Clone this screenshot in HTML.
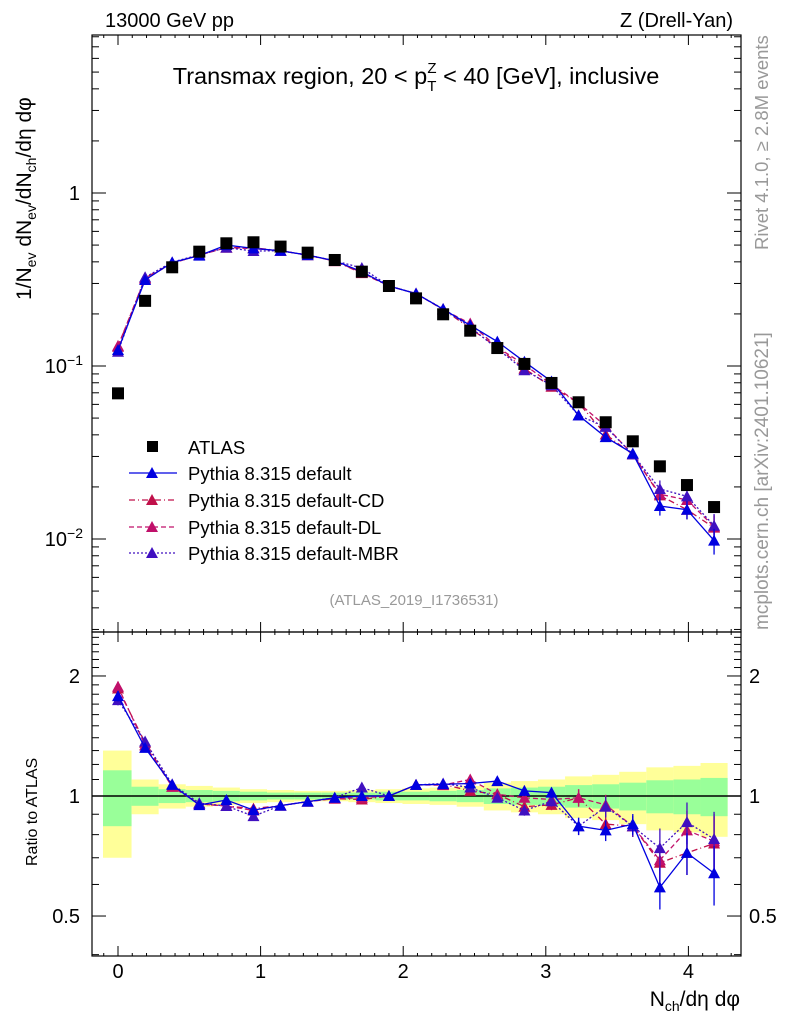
<!DOCTYPE html>
<html><head><meta charset="utf-8"><style>
body{margin:0;background:#fff;}
svg{display:block;font-family:"Liberation Sans",sans-serif;}
</style></head><body>
<svg id="c" width="786" height="1024" viewBox="0 0 786 1024"></svg>
<script>
const xs=[0,0.19,0.38,0.57,0.76,0.95,1.14,1.33,1.52,1.71,1.9,2.09,2.28,2.47,2.66,2.85,3.04,3.23,3.42,3.61,3.8,3.99,4.18];
const atlas=[0.0695,0.238,0.372,0.458,0.512,0.519,0.49,0.452,0.41,0.351,0.290,0.246,0.199,0.160,0.127,0.1028,0.0798,0.0617,0.0473,0.0367,0.0263,0.0205,0.0153];
const rDefault=[1.78,1.32,1.066,0.949,0.977,0.922,0.946,0.968,0.99,1.0,1.0,1.066,1.07,1.075,1.09,1.03,1.02,0.84,0.82,0.85,0.59,0.72,0.64];
const rCD=[1.86,1.36,1.055,0.955,0.944,0.93,0.946,0.968,0.985,0.98,1.0,1.066,1.07,1.03,1.01,0.94,0.95,0.99,0.85,0.84,0.68,0.72,0.76];
const rDL=[1.88,1.34,1.055,0.955,0.944,0.92,0.946,0.968,0.985,0.99,1.0,1.066,1.065,1.1,1.01,0.99,0.98,0.99,0.95,0.84,0.69,0.82,0.77];
const rMBR=[1.74,1.37,1.07,0.96,0.944,0.89,0.946,0.968,0.99,1.05,1.0,1.066,1.075,1.05,0.99,0.92,0.97,0.84,0.94,0.84,0.74,0.86,0.78];
const relErr=[0.03,0.02,0.015,0.015,0.015,0.015,0.015,0.015,0.015,0.015,0.015,0.015,0.02,0.02,0.02,0.03,0.03,0.05,0.06,0.06,0.12,0.12,0.17];
const bandStat=[0.16,0.055,0.04,0.035,0.03,0.025,0.02,0.02,0.02,0.02,0.025,0.025,0.03,0.035,0.045,0.05,0.055,0.065,0.07,0.08,0.095,0.1,0.11];
const bandTot=[0.3,0.1,0.07,0.06,0.05,0.04,0.035,0.03,0.03,0.035,0.04,0.045,0.05,0.06,0.08,0.09,0.1,0.12,0.13,0.15,0.18,0.19,0.21];
const xTicks=[0,1,2,3,4];
const NS="http://www.w3.org/2000/svg";
const svg=document.getElementById('c');
const L=92,R=741,T1=35,B1=632,T2=632,B2=956;
const X=v=>118+v*142.6;
const Y1=v=>193-Math.log10(v)*173;
const Y2=v=>796-Math.log10(v)*398.7;
function el(t,a,p){const e=document.createElementNS(NS,t);for(const k in a)e.setAttribute(k,a[k]);(p||svg).appendChild(e);return e;}
function txt(x,y,s,a,p){const e=el('text',Object.assign({x:x,y:y},a||{}),p);e.innerHTML=s;return e;}
const gb=el('g',{});


const hw=0.095*142.6;
xs.forEach((x,i)=>{
 const x0=i==0?X(x)-15:X(x)-hw, x1=X(x)+hw;
 const r=el('rect',{x:x0,y:Y2(1+bandTot[i]),width:x1-x0,height:Y2(1-bandTot[i])-Y2(1+bandTot[i]),fill:'#ffff99'},gb);
 
 
 const g=el('rect',{x:x0,y:Y2(1+bandStat[i]),width:x1-x0,height:Y2(1-bandStat[i])-Y2(1+bandStat[i]),fill:'#99ff99'},gb);
 
 
});
el('line',{x1:L,x2:R,y1:Y2(1),y2:Y2(1),stroke:'#000','stroke-width':1.5});
[[T1,B1],[T2,B2]].forEach(([t,b])=>el('rect',{x:L,y:t,width:R-L,height:b-t,fill:'none',stroke:'#000','stroke-width':1.2}));
function tk(x1,y1,x2,y2){el('line',{x1,y1,x2,y2,stroke:'#000','stroke-width':1});}
for(let k=-2;k<=44;k++){const v=k/10;const px=X(v);if(px<L||px>R)continue;const maj=k%10==0;const l=maj?10:3;
 tk(px,B1,px,B1-l);tk(px,T1,px,T1+l);tk(px,B2,px,B2-l);tk(px,T2,px,T2+l);}
for(let d=-3;d<=0;d++)for(let m=1;m<10;m++){const v=m*Math.pow(10,d);const py=Y1(v);if(py<T1||py>B1)continue;const l=m==1?14:7;tk(L,py,L+l,py);tk(R,py,R-l,py);}
for(let m=3;m<=25;m++){const v=m/10;const py=Y2(v);if(py<T2||py>B2)continue;const l=(v==0.5||v==1||v==2)?14:7;tk(L,py,L+l,py);tk(R,py,R-l,py);}
xTicks.forEach(v=>{const t=txt(X(v),978,String(v),{'font-size':20,'text-anchor':'middle'});});
txt(80,200,'1',{'font-size':20,'text-anchor':'end'});
txt(83,373,'10<tspan font-size="14" dy="-8">−1</tspan>',{'font-size':20,'text-anchor':'end'});
txt(83,546,'10<tspan font-size="14" dy="-8">−2</tspan>',{'font-size':20,'text-anchor':'end'});
[[2,'2'],[1,'1'],[0.5,'0.5']].forEach(([v,s])=>{txt(80,Y2(v)+7,s,{'font-size':20,'text-anchor':'end'});txt(749,Y2(v)+7,s,{'font-size':20});});
function series(r,color,dash,name){
 const g=el('g',{});
 
 
 const m=xs.map((x,i)=>atlas[i]*r[i]);
 el('polyline',{points:xs.map((x,i)=>X(x)+','+Y1(m[i])).join(' '),fill:'none',stroke:color,'stroke-width':1.3,'stroke-dasharray':dash},g);
 el('polyline',{points:xs.map((x,i)=>X(x)+','+Y2(r[i])).join(' '),fill:'none',stroke:color,'stroke-width':1.3,'stroke-dasharray':dash},g);
 xs.forEach((x,i)=>{
  [[Y1,m[i]],[Y2,r[i]]].forEach(([F,v])=>{
   const px=X(x),py=F(v),e=relErr[i];
   el('line',{x1:px,x2:px,y1:F(v*(1+e)),y2:F(v*(1-e)),stroke:color,'stroke-width':1.3},g);
   const tri=el('polygon',{points:`${px-6},${py+5} ${px+6},${py+5} ${px},${py-6}`,fill:color},g);
   
   
  });
 });
}
series(rCD,'#c0104a','6,3,1,3','series-default-cd');
series(rDL,'#c0106a','5,3','series-default-dl');
series(rMBR,'#4010c0','2,2','series-default-mbr');
series(rDefault,'#0000e0','','series-default');
const ga=el('g',{});


xs.forEach((x,i)=>{const s=el('rect',{x:X(x)-6,y:Y1(atlas[i])-6,width:12,height:12,fill:'#000'},ga);
 
 });
</script>
<svg width="786" height="1024" style="position:absolute;left:0;top:0" font-family="Liberation Sans, sans-serif">
<text x="105" y="27" font-size="20">13000 GeV pp</text>
<text x="733" y="27" font-size="20" text-anchor="end">Z (Drell-Yan)</text>
<text x="416" y="84" font-size="23.5" text-anchor="middle">Transmax region, 20 &lt; p<tspan font-size="15" dy="7">T</tspan><tspan font-size="15" dx="-9" dy="-18">Z</tspan><tspan dy="11"> &lt; 40 [GeV], inclusive</tspan></text>
<text x="414" y="605" font-size="15" fill="#999" text-anchor="middle">(ATLAS_2019_I1736531)</text>
<text transform="translate(768,250) rotate(-90)" font-size="18.5" fill="#999">Rivet 4.1.0, ≥ 2.8M events</text>
<text transform="translate(768,630) rotate(-90)" font-size="19" fill="#999">mcplots.cern.ch [arXiv:2401.10621]</text>
<text transform="translate(31,300) rotate(-90)" font-size="21">1/N<tspan font-size="14" dy="5">ev</tspan><tspan dy="-5"> dN</tspan><tspan font-size="14" dy="5">ev</tspan><tspan dy="-5">/dN</tspan><tspan font-size="14" dy="5">ch</tspan><tspan dy="-5">/dη dφ</tspan></text>
<text transform="translate(37,866) rotate(-90)" font-size="16">Ratio to ATLAS</text>
<text x="740" y="1006" font-size="21" text-anchor="end">N<tspan font-size="14" dy="5">ch</tspan><tspan dy="-5">/dη dφ</tspan></text>
<g font-size="18.5">
<rect x="147" y="441" width="11" height="11" fill="#000"/><text x="188" y="454">ATLAS</text>
<line x1="129" x2="177" y1="473" y2="473" stroke="#0000e0" stroke-width="1.3"/><polygon points="146,478 158,478 152,467" fill="#0000e0"/><text x="188" y="480">Pythia 8.315 default</text>
<line x1="129" x2="177" y1="500" y2="500" stroke="#c0104a" stroke-width="1.3" stroke-dasharray="6,3,1,3"/><polygon points="146,505 158,505 152,494" fill="#c0104a"/><text x="188" y="507">Pythia 8.315 default-CD</text>
<line x1="129" x2="177" y1="527" y2="527" stroke="#c0106a" stroke-width="1.3" stroke-dasharray="5,3"/><polygon points="146,532 158,532 152,521" fill="#c0106a"/><text x="188" y="534">Pythia 8.315 default-DL</text>
<line x1="129" x2="177" y1="553" y2="553" stroke="#4010c0" stroke-width="1.3" stroke-dasharray="2,2"/><polygon points="146,558 158,558 152,547" fill="#4010c0"/><text x="188" y="560">Pythia 8.315 default-MBR</text>
</g>
</svg>
</body></html>
